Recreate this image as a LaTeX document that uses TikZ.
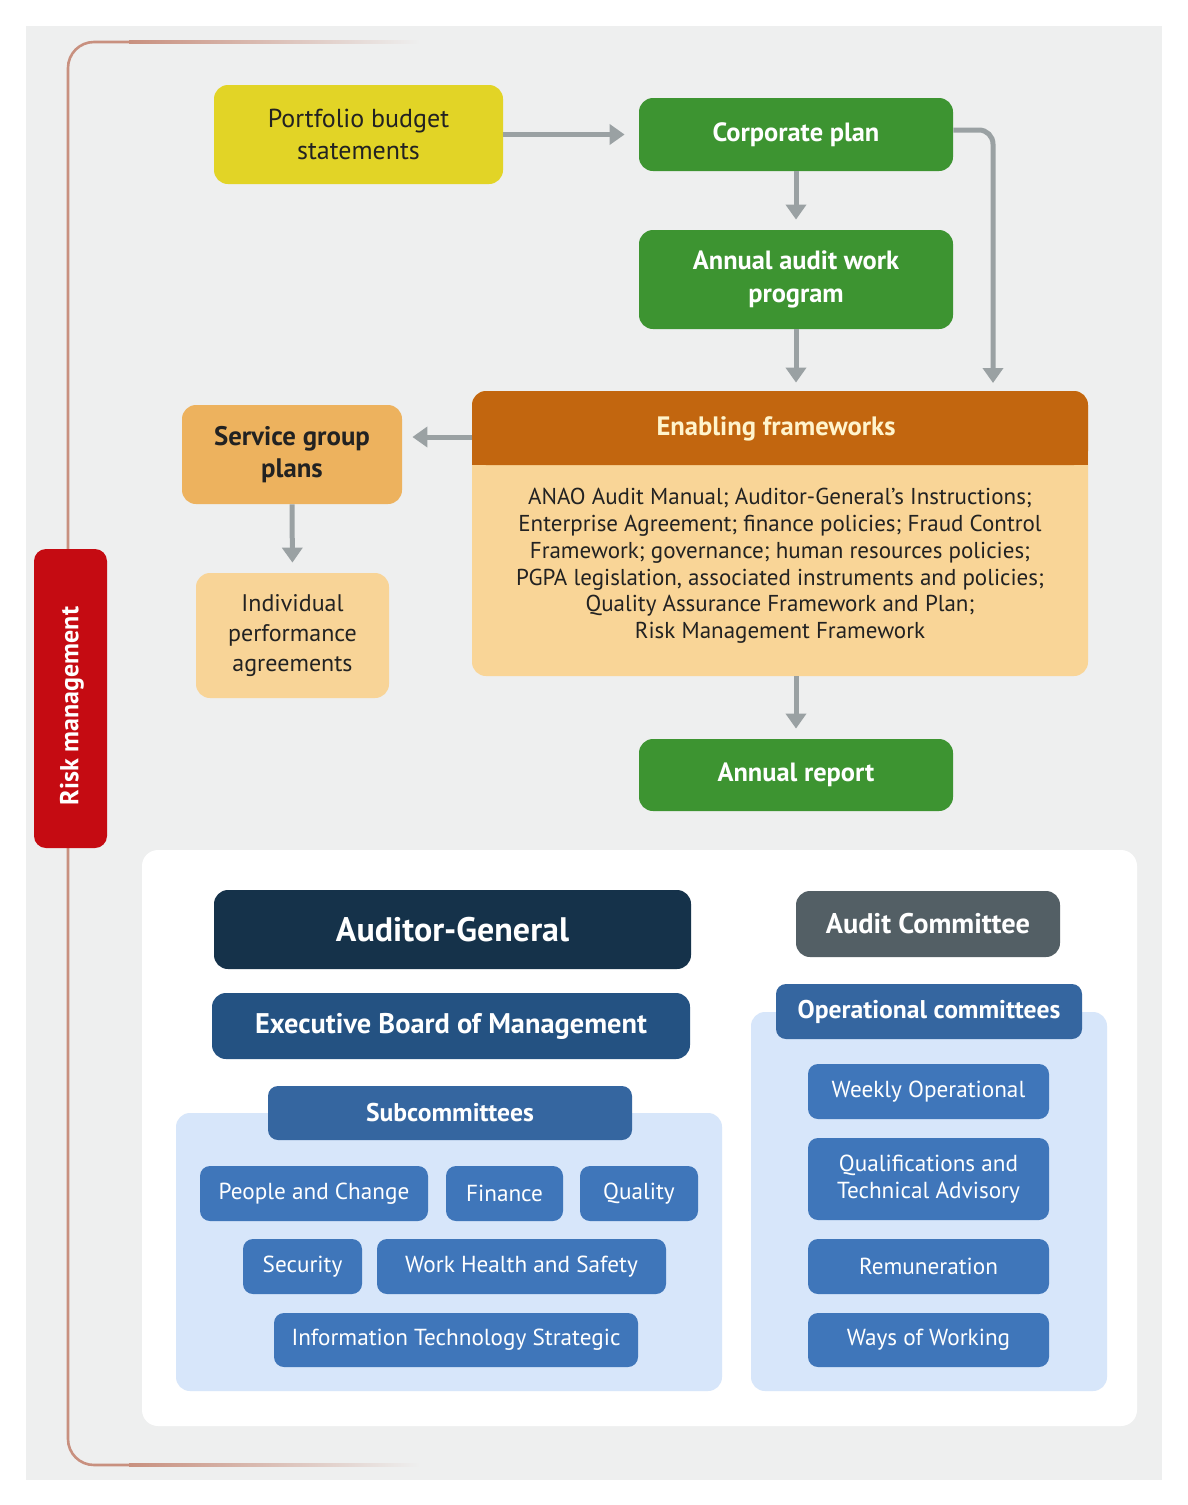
\documentclass[tikz,border=0pt]{standalone}
\usepackage{fontspec}
\setmainfont{PT Sans}
\usetikzlibrary{arrows.meta,calc}
\definecolor{cpanel}{HTML}{EEEFEF}
\definecolor{crisk}{HTML}{C8907F}
\definecolor{cred}{HTML}{C50B12}
\definecolor{cyellow}{HTML}{E2D426}
\definecolor{cgreen}{HTML}{3D9431}
\definecolor{carrow}{HTML}{9AA1A3}
\definecolor{chead}{HTML}{C2660F}
\definecolor{cbody}{HTML}{F9D597}
\definecolor{csgp}{HTML}{EDB25E}
\definecolor{cipa}{HTML}{F8D497}
\definecolor{cnavy}{HTML}{15324A}
\definecolor{cebm}{HTML}{245282}
\definecolor{csub}{HTML}{3566A0}
\definecolor{citem}{HTML}{3F76BA}
\definecolor{caudit}{HTML}{535F65}
\definecolor{clblue}{HTML}{D7E6FA}
\definecolor{cdark}{HTML}{222222}
\definecolor{ccream}{HTML}{FFF4CC}
\tikzset{
  box/.style={rounded corners=7pt, inner sep=0pt, align=center},
  greenbox/.style={box, fill=cgreen, text=white, font=\bfseries\fontsize{13.2}{16.5}\selectfont},
  itembox/.style={box, rounded corners=5pt, fill=citem, text=white, font=\fontsize{11.6}{13.5}\selectfont},
  headbox/.style={box, rounded corners=5pt, fill=csub, text=white, font=\bfseries\fontsize{12.8}{14}\selectfont},
  arr/.style={draw=carrow, line width=2.5pt, -{Triangle[length=7.5pt,width=10pt]}, shorten >=5pt},
  riskline/.style={draw=crisk, line width=1.3pt},
  riskfade/.style={left color=crisk, right color=cpanel},
}
% \bx{options}{name}{x1}{y1}{x2}{y2}{text}
\newcommand\bx[7]{%
  \pgfmathsetmacro\bxw{(#5-#3)*0.5}%
  \pgfmathsetmacro\bxh{(#6-#4)*0.5}%
  \node[#1, minimum width=\bxw pt, minimum height=\bxh pt] (#2) at ({(#3+#5)/2},{(#4+#6)/2}) {#7};}
\begin{document}
\begin{tikzpicture}[x=0.5pt,y=-0.5pt]
\useasboundingbox (0,0) rectangle (1188,1505);
\fill[white] (0,0) rectangle (1188,1505);
\fill[cpanel] (26,26) rectangle (1162,1480);
% risk bracket
\draw[riskline, rounded corners=13pt] (130,42) -- (68,42) -- (68,1465) -- (130,1465);
\fill[riskfade] (129,40.7) rectangle (420,43.3);
\fill[riskfade] (129,1463.7) rectangle (420,1466.3);
\bx{box, rounded corners=6pt, fill=cred}{rm}{34}{549}{107}{848}{}
\node[rotate=90, text=white, font=\bfseries\fontsize{13}{15}\selectfont] (rmt) at (72,706) {Risk management};
% top flow
\bx{box, fill=cyellow, text=cdark, font=\fontsize{13}{16}\selectfont}{pbs}{214}{85}{503}{184}{Portfolio budget\\statements}
\bx{greenbox}{cp}{639}{98}{953}{171}{Corporate plan}
\bx{greenbox}{aawp}{639}{230}{953}{329}{Annual audit work\\program}
\bx{box, fill=cbody}{ef}{472}{391}{1088}{676}{}
\fill[chead, rounded corners=7pt] (472,391) rectangle (1088,465);
\fill[chead] (472,440) rectangle (1088,465);
\node[text=ccream, font=\bfseries\fontsize{13.3}{15}\selectfont] (efh) at (776,429) {Enabling frameworks};
\node[align=center, text=cdark, font=\fontsize{11.5}{13.4}\selectfont] (eft) at (780,566) {ANAO Audit Manual; Auditor-General's Instructions;\\Enterprise Agreement; finance policies; Fraud Control\\Framework; governance; human resources policies;\\PGPA legislation, associated instruments and policies;\\Quality Assurance Framework and Plan;\\Risk Management Framework};
\bx{box, fill=csgp, text=cdark, font=\bfseries\fontsize{13.4}{16}\selectfont}{sgp}{182}{405}{402}{504}{Service group\\plans}
\bx{box, fill=cipa, text=cdark, font=\fontsize{12}{15}\selectfont}{ipa}{196}{573}{389}{698}{Individual\\performance\\agreements}
\bx{greenbox}{ar}{639}{739}{953}{811}{Annual report}
% arrows
\draw[arr, shorten >=7pt] (pbs.east) -- (cp.west);
\draw[arr] (cp.south) -- (aawp.north);
\draw[arr, shorten >=4pt] (aawp.south) -- (aawp.south |- ef.north);
\coordinate (efr) at (993,391);
\draw[arr, shorten >=4pt, rounded corners=7pt] ([yshift=2.25pt]cp.east) -| (efr);
\coordinate (sgpa) at ([yshift=8.75pt]sgp.east);
\draw[arr] (ef.west |- sgpa) -- (sgpa);
\draw[arr] (sgp.south) -- (ipa.north);
\draw[arr] (ar.north |- ef.south) -- (ar.north);
% bottom panel
\bx{box, rounded corners=8pt, fill=white}{wp}{142}{850}{1137}{1426}{}
\bx{box, fill=cnavy, text=white, font=\bfseries\fontsize{17}{19}\selectfont}{ag}{214}{890}{691}{969}{Auditor-General}
\bx{box, fill=cebm, text=white, font=\bfseries\fontsize{14.2}{16}\selectfont}{ebm}{212}{993}{690}{1059}{Executive Board of Management}
\bx{box, rounded corners=7pt, fill=clblue}{lp}{176}{1113}{722}{1391}{}
\bx{headbox}{sub}{268}{1086}{632}{1140}{Subcommittees}
\bx{itembox}{pc}{200}{1166}{428}{1221}{People and Change}
\bx{itembox}{fin}{446}{1166}{563}{1221}{Finance}
\bx{itembox}{qual}{580}{1166}{698}{1221}{Quality}
\bx{itembox}{sec}{243}{1239}{362}{1294}{Security}
\bx{itembox}{whs}{377}{1239}{666}{1294}{Work Health and Safety}
\bx{itembox}{its}{274}{1313}{638}{1367}{Information Technology Strategic}
\bx{box, fill=caudit, text=white, font=\bfseries\fontsize{14.2}{16}\selectfont}{ac}{796}{891}{1060}{957}{Audit Committee}
\bx{box, rounded corners=7pt, fill=clblue}{rp}{751}{1012}{1107}{1391}{}
\bx{headbox}{oc}{776}{984}{1082}{1039}{Operational committees}
\bx{itembox}{wo}{808}{1064}{1049}{1119}{Weekly Operational}
\bx{itembox}{qta}{808}{1138}{1049}{1220}{Qualifications and\\Technical Advisory}
\bx{itembox}{rem}{808}{1239}{1049}{1294}{Remuneration}
\bx{itembox}{ww}{808}{1313}{1049}{1367}{Ways of Working}
\end{tikzpicture}
\end{document}
